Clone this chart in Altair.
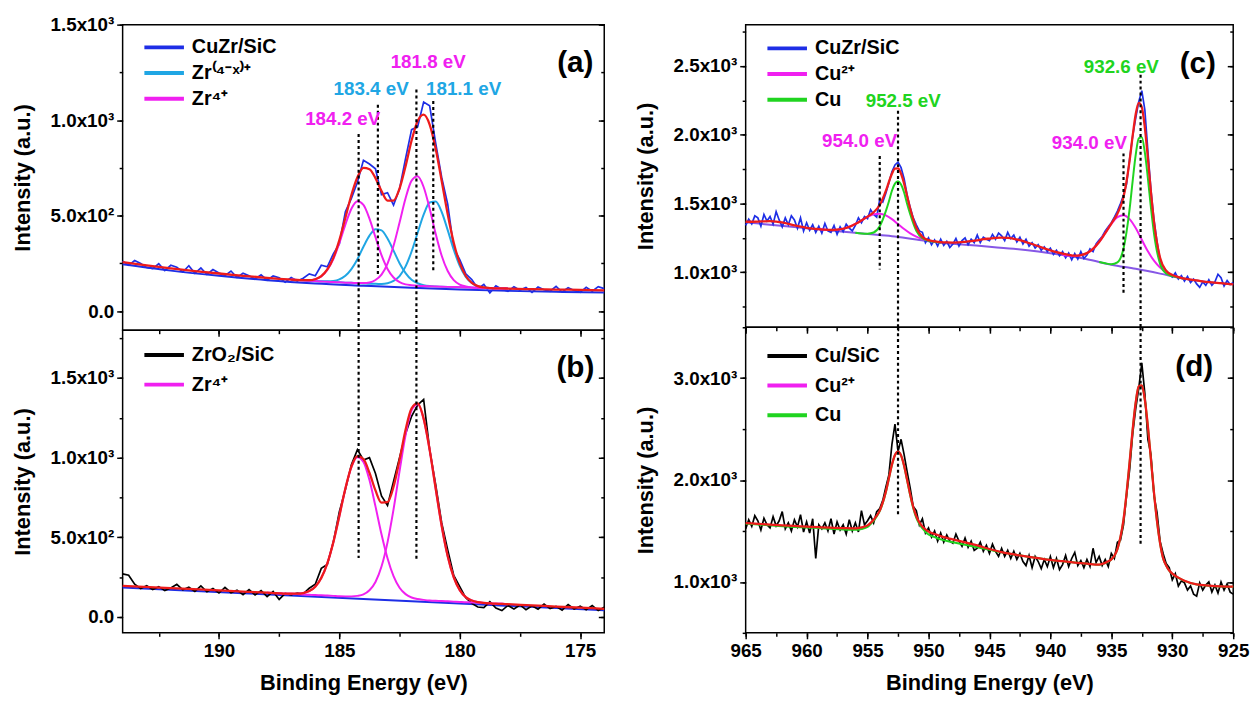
import altair as alt
import numpy as np
import pandas as pd

FONT = "Liberation Sans"
BLUE = "#1e2ee6"
CYAN = "#20a6e4"
MAG = "#f020f0"
RED = "#ee1b1b"
GREEN = "#20d420"
PURPLE = "#8657e6"
BLACK = "#000000"

ZRX = "Zr\u207d\u2074\u207b\u02e3\u207e\u207a"
ZR4 = "Zr\u2074\u207a"
CU2 = "Cu\u00b2\u207a"
ZRO2 = "ZrO\u2082/SiC"

# ---------------- (a) Zr 3d of CuZr/SiC ----------------
a_spec_x = np.round(np.linspace(194, 174, 81), 2)
a_spec_y = [262, 240, 265, 250, 228, 222, 248, 212, 240, 230, 205, 238, 198, 226, 192, 218,
            200, 186, 210, 176, 198, 185, 168, 190, 162, 184, 175, 152, 176, 158, 172, 195,
            185, 240, 232, 300, 352, 520, 590, 675, 790, 770, 745, 610, 620, 555, 640, 800,
            950, 965, 1095, 1075, 880, 700, 560, 330, 270, 195, 165, 118, 140, 96, 132, 115,
            104, 128, 110, 124, 98, 126, 112, 104, 130, 100, 122, 108, 98, 125, 104, 128, 118]
a_bg_x = [194, 192, 190, 188, 186, 184, 182, 180, 178, 176, 174]
a_bg_y = [245, 212, 185, 162, 145, 133, 122, 113, 106, 101, 97]
a_comp_x = np.round(np.linspace(187, 178, 37), 2)
a_zr4_184 = [165, 163, 162, 162, 167, 182, 216, 273, 357, 453, 536, 575, 556, 484, 387, 293, 221,
             176, 152, 140, 136, 133, 131, 130, 129, 128, 127, 126, 125, 124, 123, 122, 121, 120,
             119, 119, 118]
a_zrx_183 = [165, 163, 161, 159, 157, 156, 156, 158, 166, 185, 220, 272, 337, 395, 429, 423, 380,
             317, 251, 199, 164, 146, 136, 131, 129, 128, 127, 126, 125, 124, 123, 122, 121, 120,
             119, 119, 118]
a_zr4_181 = [165, 163, 161, 159, 157, 155, 154, 152, 151, 149, 148, 147, 147, 150, 163, 191, 249,
             342, 464, 591, 683, 706, 650, 537, 405, 290, 210, 162, 139, 129, 124, 122, 121, 120,
             119, 119, 118]
a_zrx_181 = [165, 163, 161, 159, 157, 155, 154, 152, 151, 149, 148, 146, 145, 143, 143, 142, 146,
             158, 183, 234, 312, 410, 505, 569, 574, 519, 424, 322, 237, 179, 147, 131, 124, 121,
             119, 119, 118]
a_fit_x = [194, 193, 192, 191, 190, 189, 188, 187.5] + list(a_comp_x) + [177, 176, 175, 174]
a_fit_y = [257, 240, 224, 210, 197, 185, 174, 169,
           165, 163, 162, 162, 167, 183, 218, 279, 372, 489, 608, 701, 750, 743, 696, 629, 579,
           579, 642, 759, 893, 996, 1029, 977, 850, 681, 507, 358, 251, 184, 148, 131, 124, 121,
           119, 119, 118,
           115, 113, 111, 109]
a_rule_x = [184.2, 183.4, 181.8, 181.1]
a_rule_top = [927, 1080, 1160, 1100]
a_rule_bot = [-100, 195, -100, 210]
a_peak_t = ["184.2 eV", "183.4 eV", "181.8 eV", "181.1 eV"]
a_peak_x = [184.86, 183.68, 181.31, 179.84]
a_peak_y = [1005, 1161, 1302, 1161]
a_peak_c = [MAG, CYAN, MAG, CYAN]

# ---------------- (b) Zr 3d of ZrO2/SiC ----------------
b_spec_x = np.round(np.linspace(194, 174, 81), 2)
b_spec_y = [270, 262, 205, 178, 196, 172, 190, 165, 182, 205, 170, 186, 160, 195, 158, 178,
            150, 186, 152, 168, 140, 172, 138, 165, 128, 160, 110, 148, 138, 150, 145, 180,
            205, 305, 330, 470, 660, 800, 955, 1050, 985, 1000, 900, 760, 700, 850, 1000, 1150,
            1260, 1330, 1365, 1050, 830, 590, 420, 260, 190, 120, 85, 62, 58, 95, 55, 40,
            72, 50, 75, 45, 70, 48, 80, 52, 66, 42, 78, 50, 68, 45, 72, 40, 60]
b_bg_x = [194, 184, 174]
b_bg_y = [185, 113, 41]
b_comp_x = np.round(np.linspace(188, 178, 41), 2)
b_zr4_184 = [152, 150, 148, 146, 146, 146, 150, 162, 190, 245, 336, 469, 634, 805, 941, 1003, 973,
             859, 694, 519, 368, 256, 183, 143, 122, 112, 107, 103, 101, 100, 98, 96, 94, 92, 91,
             89, 87, 85, 83, 82, 80]
b_zr4_181 = [152, 150, 148, 146, 145, 143, 141, 139, 137, 136, 134, 132, 130, 129, 129, 132, 141,
             167, 219, 316, 468, 675, 915, 1142, 1297, 1335, 1243, 1049, 806, 571, 381, 249, 168,
             124, 103, 93, 88, 85, 83, 82, 80]
b_fit_x = [194, 192, 190, 189, 188.5] + list(b_comp_x) + [177, 176, 175, 174]
b_fit_y = [195, 181, 166, 159, 155,
           152, 150, 148, 146, 146, 146, 150, 162, 190, 245, 336, 469, 634, 806, 943, 1010, 991,
           905, 794, 717, 720, 817, 986, 1175, 1310, 1340, 1245, 1049, 806, 571, 381, 249, 168,
           124, 103, 93, 88, 85, 83, 82, 80,
           73, 65, 58, 51]
b_rule_x = [184.2, 181.8]
b_rule_top = [1800, 1800]
b_rule_bot = [370, 350]

# ---------------- (c) Cu 2p of CuZr/SiC ----------------
c_spec_x = np.round(np.linspace(965, 925, 161), 2)
c_spec_y = [1340, 1385, 1352, 1410, 1395, 1335, 1420, 1372, 1405, 1350, 1440, 1380,
            1330, 1395, 1345, 1410, 1380, 1320, 1395, 1300, 1360, 1305, 1345, 1290,
            1335, 1285, 1355, 1300, 1290, 1340, 1275, 1330, 1295, 1350, 1320, 1300,
            1340, 1395, 1360, 1405, 1390, 1455, 1420, 1400, 1530, 1510, 1575, 1650,
            1730, 1780, 1800, 1760, 1680, 1560, 1470, 1395, 1345, 1300, 1290, 1215,
            1250, 1200, 1235, 1190, 1240, 1195, 1225, 1180, 1205, 1245, 1190, 1230,
            1250, 1200, 1240, 1215, 1270, 1215, 1255, 1240, 1230, 1275, 1240, 1285,
            1265, 1230, 1290, 1245, 1270, 1220, 1255, 1205, 1240, 1190, 1215, 1175,
            1200, 1160, 1185, 1150, 1175, 1130, 1160, 1120, 1150, 1105, 1140, 1090,
            1135, 1095, 1150, 1100, 1125, 1170, 1150, 1205, 1235, 1260, 1300, 1330,
            1360, 1400, 1445, 1500, 1560, 1640, 1820, 1990, 2120, 2240, 2320, 2180,
            1880, 1600, 1380, 1220, 1090, 1040, 1010, 985, 965, 995, 950, 975,
            935, 970, 925, 950, 915, 890, 930, 905, 945, 905, 930, 985,
            960, 900, 940, 910, 925]
c_bg_x = [965, 963, 961, 959, 957, 955, 953, 951, 949, 947, 945, 943, 941, 939, 937, 935, 933,
          931, 929, 927, 925]
c_bg_y = [1364, 1345, 1328, 1312, 1295, 1278, 1262, 1238, 1215, 1200, 1186, 1170, 1150, 1125,
          1095, 1055, 1025, 990, 952, 928, 912]
c_cu2_954_x = np.round(np.linspace(959, 949, 21), 2)
c_cu2_954_y = [1313, 1309, 1307, 1309, 1316, 1330, 1351, 1376, 1402, 1421, 1425, 1413, 1386,
               1350, 1314, 1283, 1259, 1242, 1231, 1223, 1216]
c_cu_952_x = [956, 955.5, 955, 954.5, 954, 953.5, 953.25, 953, 952.75, 952.5, 952.25, 952,
              951.75, 951.5, 951, 950.5, 950, 949.5, 949]
c_cu_952_y = [1287, 1282, 1280, 1289, 1334, 1444, 1514, 1592, 1644, 1661, 1638, 1580, 1496,
              1422, 1302, 1247, 1229, 1221, 1215]
c_cu2_934_x = np.round(np.linspace(939, 929, 21), 2)
c_cu2_934_y = [1126, 1121, 1118, 1123, 1139, 1170, 1220, 1285, 1351, 1401, 1415, 1386, 1321,
               1236, 1152, 1084, 1034, 1000, 979, 965, 953]
c_cu_932_x = [936, 935.5, 935, 934.5, 934, 933.5, 933.25, 933, 932.75, 932.5, 932.25, 932,
              931.75, 931.5, 931, 930.5, 930, 929.5, 929]
c_cu_932_y = [1075, 1065, 1058, 1072, 1172, 1459, 1663, 1853, 1973, 1981, 1871, 1683, 1469,
              1283, 1061, 991, 972, 962, 952]
c_fit_x = [965, 964.5, 964, 963.5, 963, 962.5, 962, 961.5, 961, 960.5, 960, 959.5, 959, 958.5,
           958, 957.5, 957, 956.5, 956, 955.5, 955, 954.5, 954, 953.5, 953.25, 953, 952.75,
           952.5, 952.25, 952, 951.75, 951.5, 951, 950.5, 950, 949.5, 949, 948.5, 948, 947.5,
           947, 946.5, 946, 945.5, 945, 944.5, 944, 943.5, 943, 942.5, 942, 941.5, 941, 940.5,
           940, 939.5, 939, 938.5, 938, 937.5, 937, 936.5, 936, 935.5, 935, 934.5, 934, 933.5,
           933.25, 933, 932.75, 932.5, 932.25, 932, 931.75, 931.5, 931, 930.5, 930, 929.5, 929,
           928.5, 928, 927, 926, 925]
c_fit_y = [1367, 1367, 1368, 1370, 1371, 1368, 1362, 1352, 1341, 1331, 1323, 1317, 1313, 1309,
           1307, 1309, 1316, 1330, 1351, 1376, 1404, 1436, 1489, 1591, 1656, 1716, 1754,
           1755, 1716, 1644, 1552, 1461, 1323, 1257, 1233, 1225, 1219, 1217, 1216, 1217,
           1221, 1226, 1232, 1240, 1245, 1250, 1251, 1249, 1243, 1233, 1219, 1205, 1189, 1174,
           1159, 1146, 1135, 1127, 1121, 1125, 1139, 1170, 1220, 1285, 1354, 1425, 1547, 1812,
           1991, 2149, 2232, 2201, 2052, 1828, 1582, 1368, 1105, 1011, 980, 965, 953,
           946, 940, 928, 920, 912]
c_rule_x = [954.0, 952.5, 934.0, 932.6]
c_rule_top = [1845, 2174, 1864, 2436]
c_rule_bot = [1019, 600, 829, 600]
c_peak_t = ["954.0 eV", "952.5 eV", "934.0 eV", "932.6 eV"]
c_peak_x = [955.65, 952.07, 936.8, 934.18]
c_peak_y = [1955, 2245, 1936, 2495]
c_peak_c = [MAG, GREEN, MAG, GREEN]

# ---------------- (d) Cu 2p of Cu/SiC ----------------
d_spec_x = np.round(np.linspace(965, 925, 161), 2)
d_spec_y = [1520, 1610, 1545, 1650, 1600, 1510, 1625, 1560, 1530, 1640, 1550, 1600,
            1690, 1520, 1580, 1500, 1610, 1540, 1660, 1490, 1590, 1480, 1620, 1230,
            1560, 1520, 1580, 1500, 1620, 1470, 1590, 1510, 1560, 1470, 1610, 1500,
            1580, 1490, 1700, 1560, 1600, 1650, 1580, 1690, 1720, 1800, 1930, 2050,
            2350, 2550, 2280, 2400, 2250, 2080, 1920, 1740, 1700, 1560, 1620, 1480,
            1530, 1440, 1500, 1400, 1480, 1390, 1460, 1400, 1380, 1470, 1400, 1350,
            1430, 1340, 1400, 1310, 1330, 1390, 1300, 1360, 1280, 1370, 1300, 1250,
            1330, 1250, 1310, 1230, 1300, 1220, 1280, 1200, 1160, 1260, 1140, 1250,
            1200, 1130, 1220, 1150, 1250, 1140, 1230, 1120, 1170, 1260, 1150, 1230,
            1290, 1160, 1210, 1140, 1220, 1150, 1330, 1190, 1250, 1160, 1220, 1150,
            1280, 1230, 1390, 1410, 1560, 1850, 2100, 2450, 2700, 2900, 3150, 2850,
            2400, 2250, 1850, 1680, 1400, 1280, 1180, 1140, 1020, 1080, 960, 1010,
            990, 920, 960, 880, 860, 990, 920, 970, 1000, 900, 970, 890,
            1000, 920, 980, 900, 880]
d_curve_x = [965, 964, 963, 962, 961, 960, 959, 958, 957, 956, 955.5, 955, 954.75, 954.5,
             954.25, 954, 953.75, 953.5, 953.25, 953, 952.75, 952.5, 952.25, 952, 951.75, 951.5,
             951.25, 951, 950.75, 950.5, 950.25, 950, 949.5, 949, 948, 947, 946, 945, 944, 943,
             942, 941, 940, 939, 938, 937, 936, 935.5, 935.25, 935, 934.75, 934.5, 934.25, 934,
             933.75, 933.5, 933.25, 933, 932.75, 932.5, 932.25, 932, 931.75, 931.5, 931.25, 931,
             930.75, 930.5, 930.25, 930, 929.5, 929, 928, 927, 926, 925]
d_cu_y = [1572, 1563, 1555, 1547, 1540, 1534, 1528, 1521, 1515, 1512, 1520, 1540, 1568, 1600,
          1642, 1695, 1775, 1880, 2015, 2148, 2244, 2278, 2240, 2138, 1995, 1850,
          1722, 1628, 1568, 1525, 1492, 1465, 1440, 1417, 1390, 1365, 1340, 1315, 1290, 1270,
          1250, 1233, 1216, 1203, 1190, 1179, 1168, 1185, 1200, 1220, 1255, 1320, 1440, 1610,
          1866, 2175, 2492, 2759, 2919, 2928, 2787, 2525, 2201, 1874, 1592, 1378,
          1231, 1160, 1110, 1080, 1040, 1010, 974, 962, 955, 952]
d_fit_y = [1578, 1570, 1562, 1555, 1549, 1543, 1537, 1532, 1528, 1525, 1535, 1555, 1580, 1610,
           1650, 1700, 1780, 1885, 2018, 2150, 2246, 2280, 2242, 2140, 2000, 1858,
           1735, 1645, 1585, 1545, 1515, 1495, 1470, 1450, 1417, 1388, 1358, 1323, 1293, 1270,
           1250, 1233, 1216, 1203, 1190, 1179, 1170, 1187, 1202, 1222, 1257, 1322, 1442, 1612,
           1868, 2177, 2494, 2761, 2921, 2930, 2789, 2527, 2203, 1876, 1594, 1380,
           1233, 1162, 1112, 1082, 1042, 1012, 976, 964, 957, 954]
d_rule_x = [952.5, 932.6]
d_rule_top = [3500, 3500]
d_rule_bot = [1636, 1362]

letters = {"a": (175.2, 1297), "b": (175.2, 1565), "c": (927.9, 2512), "d": (928.2, 3107)}

for name, xs_, ys_ in [("a", a_spec_x, a_spec_y), ("b", b_spec_x, b_spec_y),
                       ("c", c_spec_x, c_spec_y), ("d", d_spec_x, d_spec_y)]:
    assert len(xs_) == len(ys_), name
assert len(a_fit_x) == len(a_fit_y)
assert len(b_fit_x) == len(b_fit_y)
assert len(c_fit_x) == len(c_fit_y)
assert len(d_curve_x) == len(d_cu_y) == len(d_fit_y)


def lines_frame(parts):
    rows = []
    for label, cid, xs_, ys_ in parts:
        for xv, yv in zip(xs_, ys_):
            rows.append({"x": float(xv), "y": float(yv), "s": label, "c": cid})
    return pd.DataFrame(rows)


def xy_frame(xs_, ys_):
    return pd.DataFrame({"x": [float(v) for v in xs_], "y": [float(v) for v in ys_]})


def rules_frame(xs_, top, bot):
    return pd.DataFrame({"x": xs_, "y1": top, "y2": bot})


def lab_expr(vals, labs):
    e = "''"
    for v, l in reversed(list(zip(vals, labs))):
        e = f"datum.value == {v} ? '{l}' : ({e})"
    return e


def panel(w, h, xdom, ydom, xmaj, xall, ymaj, yall, ylabs, bottom, spec, comps, leg_dom, leg_rng,
          leg_y, leg_pad, fit, bg, bg_col, rules, peaks, letter):
    xs = alt.Scale(domain=xdom, reverse=True, nice=False, zero=False)
    ys = alt.Scale(domain=ydom, nice=False, zero=False)
    if bottom:
        ax_xmaj = alt.Axis(orient="bottom", values=xmaj, format="d", tickSize=6, labelPadding=3,
                           labelFlush=False, labelOverlap=False, title="Binding Energy (eV)",
                           titlePadding=12)
    else:
        ax_xmaj = alt.Axis(orient="bottom", values=xmaj, labels=False, tickSize=6, title=None)
    ax_xmin = alt.Axis(orient="bottom", values=xall, labels=False, tickSize=3.5, title=None)
    ax_ymaj = alt.Axis(orient="left", values=ymaj, labelExpr=lab_expr(ymaj, ylabs), tickSize=6,
                       labelPadding=3, labelFlush=False, labelOverlap=False,
                       title="Intensity (a.u.)", titlePadding=16)
    ax_ymin = alt.Axis(orient="left", values=yall, labels=False, tickSize=3.5, title=None)
    ax_rmaj = alt.Axis(orient="right", values=ymaj, labels=False, tickSize={"expr": "-6"},
                       title=None)
    ax_rmin = alt.Axis(orient="right", values=yall, labels=False, tickSize={"expr": "-3.5"},
                       title=None)
    cscale = alt.Scale(domain=leg_dom, range=leg_rng)
    legend = alt.Legend(orient="none", legendX=20, legendY=leg_y, title=None,
                        symbolType="M-1,0H3", symbolSize=400, symbolStrokeWidth=4,
                        labelFont=FONT, labelFontSize=20, labelFontWeight="bold",
                        labelColor="black", labelOffset=26, rowPadding=leg_pad, padding=0,
                        labelLimit=300)
    layers = []
    if bg is not None:
        layers.append(alt.Chart(bg).mark_line(color=bg_col, strokeWidth=2,
                                              interpolate="monotone").encode(
            x=alt.X("x:Q", scale=xs, axis=None), y=alt.Y("y:Q", scale=ys, axis=None)))
    layers.append(alt.Chart(spec).mark_line(strokeWidth=1.7).encode(
        x=alt.X("x:Q", scale=xs, axis=ax_xmaj),
        y=alt.Y("y:Q", scale=ys, axis=ax_ymaj),
        color=alt.Color("s:N", scale=cscale, legend=legend),
        detail="c:N"))
    layers.append(alt.Chart(comps).mark_line(strokeWidth=2, interpolate="monotone").encode(
        x=alt.X("x:Q", scale=xs, axis=None),
        y=alt.Y("y:Q", scale=ys, axis=None),
        color=alt.Color("s:N", scale=cscale, legend=legend),
        detail="c:N"))
    layers.append(alt.Chart(fit).mark_line(color=RED, strokeWidth=2.3,
                                           interpolate="monotone").encode(
        x=alt.X("x:Q", scale=xs, axis=ax_xmin), y=alt.Y("y:Q", scale=ys, axis=ax_ymin)))
    layers.append(alt.Chart(rules).mark_rule(color="black", strokeWidth=2.2,
                                             strokeDash=[3, 3]).encode(
        x=alt.X("x:Q", scale=xs, axis=None), y=alt.Y("y1:Q", scale=ys, axis=ax_rmaj),
        y2="y2:Q"))
    if peaks is not None:
        layers.append(alt.Chart(peaks).mark_text(font=FONT, fontSize=19,
                                                 fontWeight="bold").encode(
            x=alt.X("x:Q", scale=xs, axis=None), y=alt.Y("y:Q", scale=ys, axis=None),
            text="t:N", color=alt.Color("col:N", scale=None)))
    layers.append(alt.Chart(letter).mark_text(font=FONT, fontSize=30, fontWeight="bold",
                                              color="black").encode(
        x=alt.X("x:Q", scale=xs, axis=None), y=alt.Y("y:Q", scale=ys, axis=ax_rmin),
        text="t:N"))
    return alt.layer(*layers).resolve_axis(x="independent", y="independent").properties(
        width=w, height=h)


def letter_frame(key):
    x, y = letters[key]
    return pd.DataFrame({"x": [x], "y": [y], "t": [f"({key})"]})


zr_xmaj = [175, 180, 185, 190]
zr_xall = [175, 177.5, 180, 182.5, 185, 187.5, 190, 192.5]
cu_xmaj = [925, 930, 935, 940, 945, 950, 955, 960, 965]
cu_xall = [925 + 2.5 * i for i in range(17)]

pa = panel(487, 309, [174, 194], [-100, 1500], zr_xmaj, zr_xall,
           [0, 500, 1000, 1500], [0, 250, 500, 750, 1000, 1250, 1500],
           ["0.0", "5.0x10\u00b2", "1.0x10\u00b3", "1.5x10\u00b3"], False,
           lines_frame([("CuZr/SiC", "spec", a_spec_x, a_spec_y)]),
           lines_frame([(ZRX, "zrx183", a_comp_x, a_zrx_183),
                        (ZRX, "zrx181", a_comp_x, a_zrx_181),
                        (ZR4, "zr4184", a_comp_x, a_zr4_184),
                        (ZR4, "zr4181", a_comp_x, a_zr4_181)]),
           ["CuZr/SiC", ZRX, ZR4], [BLUE, CYAN, MAG], 11, 4,
           xy_frame(a_fit_x, a_fit_y), xy_frame(a_bg_x, a_bg_y), BLUE,
           rules_frame(a_rule_x, a_rule_top, a_rule_bot),
           pd.DataFrame({"x": a_peak_x, "y": a_peak_y, "t": a_peak_t, "col": a_peak_c}),
           letter_frame("a"))

pb = panel(487, 306, [174, 194], [-100, 1800], zr_xmaj, zr_xall,
           [0, 500, 1000, 1500], [0, 250, 500, 750, 1000, 1250, 1500, 1750],
           ["0.0", "5.0x10\u00b2", "1.0x10\u00b3", "1.5x10\u00b3"], True,
           lines_frame([(ZRO2, "spec", b_spec_x, b_spec_y)]),
           lines_frame([(ZR4, "zr4184", b_comp_x, b_zr4_184),
                        (ZR4, "zr4181", b_comp_x, b_zr4_181)]),
           [ZRO2, ZR4], [BLACK, MAG], 13, 8,
           xy_frame(b_fit_x, b_fit_y), xy_frame(b_bg_x, b_bg_y), BLUE,
           rules_frame(b_rule_x, b_rule_top, b_rule_bot), None, letter_frame("b"))

pc = panel(493, 306, [925, 965], [600, 2800], cu_xmaj, cu_xall,
           [1000, 1500, 2000, 2500], [750, 1000, 1250, 1500, 1750, 2000, 2250, 2500, 2750],
           ["1.0x10\u00b3", "1.5x10\u00b3", "2.0x10\u00b3", "2.5x10\u00b3"], False,
           lines_frame([("CuZr/SiC", "spec", c_spec_x, c_spec_y)]),
           lines_frame([(CU2, "cu2954", c_cu2_954_x, c_cu2_954_y),
                        (CU2, "cu2934", c_cu2_934_x, c_cu2_934_y),
                        ("Cu", "cu952", c_cu_952_x, c_cu_952_y),
                        ("Cu", "cu932", c_cu_932_x, c_cu_932_y)]),
           ["CuZr/SiC", CU2, "Cu"], [BLUE, MAG, GREEN], 12, 4,
           xy_frame(c_fit_x, c_fit_y), xy_frame(c_bg_x, c_bg_y), PURPLE,
           rules_frame(c_rule_x, c_rule_top, c_rule_bot),
           pd.DataFrame({"x": c_peak_x, "y": c_peak_y, "t": c_peak_t, "col": c_peak_c}),
           letter_frame("c"))

pd_ = panel(493, 309, [925, 965], [500, 3500], cu_xmaj, cu_xall,
            [1000, 2000, 3000], [500, 1000, 1500, 2000, 2500, 3000, 3500],
            ["1.0x10\u00b3", "2.0x10\u00b3", "3.0x10\u00b3"], True,
            lines_frame([("Cu/SiC", "spec", d_spec_x, d_spec_y)]),
            lines_frame([("Cu", "cu", d_curve_x, d_cu_y)]),
            ["Cu/SiC", CU2, "Cu"], [BLACK, MAG, GREEN], 17, 8,
            xy_frame(d_curve_x, d_fit_y), None, None,
            rules_frame(d_rule_x, d_rule_top, d_rule_bot), None, letter_frame("d"))

left = alt.vconcat(pa, pb, spacing=0, bounds="flush").resolve_scale(color="independent")
right = alt.vconcat(pc, pd_, spacing=0, bounds="flush").resolve_scale(color="independent")

chart = alt.hconcat(left, right, spacing=23).resolve_scale(color="independent").properties(
    padding={"left": 10, "top": 11, "right": 2, "bottom": 2}, background="white"
).configure_view(stroke="black", strokeWidth=1.5).configure_axis(
    labelFont=FONT, labelFontSize=19, labelFontWeight="bold", labelColor="black",
    titleFont=FONT, titleFontSize=22, titleFontWeight="bold", titleColor="black",
    tickColor="black", tickWidth=1.5, domain=False, grid=False)

chart.save("out.html", embed_options={"renderer": "svg", "actions": False})
